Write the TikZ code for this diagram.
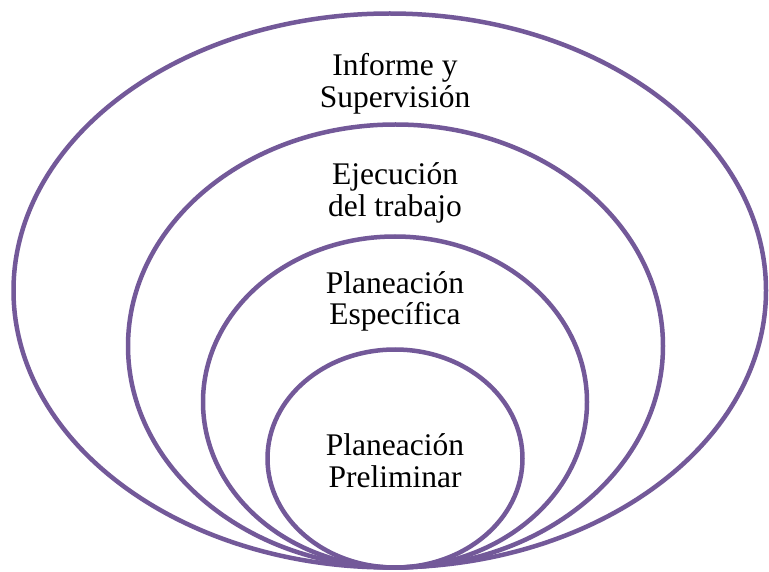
\documentclass[tikz,border=0pt]{standalone}
\usepackage{fontspec}
\setmainfont{Liberation Serif}
\definecolor{ringpurple}{RGB}{115,89,153}
\begin{document}
\begin{tikzpicture}[x=1pt,y=-1pt,
  ring/.style={draw=ringpurple,line width=4.5pt},
  lbl/.style={align=center,inner sep=0pt,anchor=base,font=\fontsize{31.5}{32}\selectfont}]
\useasboundingbox (0,0) rectangle (769,572);
\fill[white] (0,0) rectangle (769,572);
\draw[ring] (389.75,290.5) ellipse [x radius=376.25, y radius=277];
\draw[ring] (395.5,346) ellipse [x radius=267.5, y radius=221.5];
\draw[ring] (395,402) ellipse [x radius=192, y radius=165.5];
\draw[ring] (395,458.5) ellipse [x radius=127.5, y radius=109];
\node[lbl] (informe) at (395,108) {Informe y\\Supervisión};
\node[lbl] (ejecucion) at (395,217) {Ejecución\\del trabajo};
\node[lbl] (especifica) at (395,325) {Planeación\\Específica};
\node[lbl] (preliminar) at (395,487) {Planeación\\Preliminar};
\end{tikzpicture}
\end{document}
